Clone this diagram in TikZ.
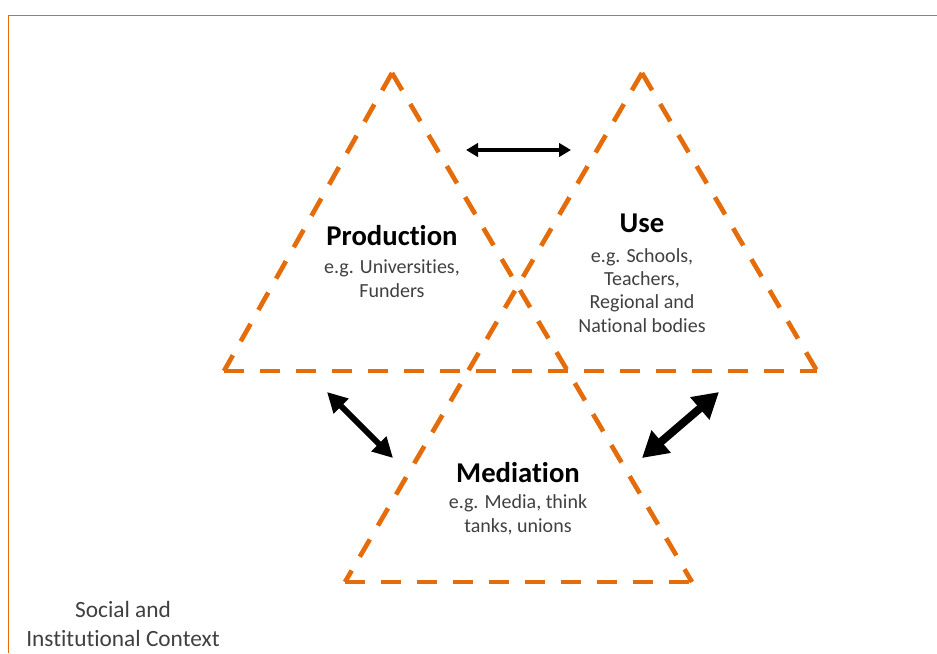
\documentclass[tikz,border=0pt]{standalone}
\usepackage{fontspec}
\setmainfont{Carlito}[Ligatures=NoCommon]
\usetikzlibrary{arrows.meta}
\definecolor{ctxorange}{RGB}{228,108,10}
\definecolor{labelgrey}{RGB}{64,64,64}

\begin{document}
\begin{tikzpicture}[x=0.75pt,y=-0.75pt]
	\tikzset{edge/.style = {draw=ctxorange, line width=3.5pt, dash pattern=on 15pt off 12pt}}
	\tikzset{frame/.style = {draw=ctxorange, line width=1.1pt}}
	\tikzset{title/.style = {font=\fontsize{21.5}{26}\selectfont\bfseries, anchor=base, inner sep=0pt}}
	\tikzset{sub/.style = {font=\fontsize{15}{17.5}\selectfont, text=labelgrey, align=center, anchor=base, inner sep=0pt}}

	\useasboundingbox (0,0) rectangle (937,653);

	% frame of the context
	\coordinate (F_1) at (8.5,653);
	\coordinate (F_2) at (8.5,15.5);
	\coordinate (F_3) at (937,15.5);
	\draw[frame] (F_1)--(F_2)--(F_3);

	% corners of the triangles
	\coordinate (P_A) at (392,73);
	\coordinate (P_L) at (224,371);
	\coordinate (U_A) at (642,73);
	\coordinate (U_R) at (817,371);
	\coordinate (M_L) at (345,582);
	\coordinate (M_R) at (692,582);

	\draw[edge] (P_A)--(P_L);
	\draw[edge] (P_A)--(M_R);
	\draw[edge] (U_A)--(M_L);
	\draw[edge] (U_A)--(U_R);
	\draw[edge] (P_L)--(U_R);
	\draw[edge] (M_L)--(M_R);

	% labels (multi-line nodes sit on their last line)
	\node[title] (prod) at (392,245) {Production};
	\node[sub] (prodsub) at (392,297) {e.g. Universities,\\Funders};

	\node[title] (use) at (642,232) {Use};
	\node[sub] (usesub) at (642,332) {e.g. Schools,\\Teachers,\\Regional and\\National bodies};

	\node[title] (med) at (518,482) {Mediation};
	\node[sub] (medsub) at (518,532) {e.g. Media, think\\tanks, unions};

	\node[sub, font=\fontsize{17.5}{21.75}\selectfont] (ctx) at (123,646) {Social and\\Institutional Context};

	% arrows
	\coordinate (A_1) at (466,150);
	\coordinate (A_2) at (571,150);
	\coordinate (B_1) at (327,392);
	\coordinate (B_2) at (393,458);
	\coordinate (C_1) at (719,392);
	\coordinate (C_2) at (642,458);

	\draw[line width=2.5pt, {Triangle[length=9pt, width=10pt]}-{Triangle[length=9pt, width=10pt]}] (A_1)--(A_2);
	\draw[line width=4.5pt, {Triangle[length=15pt, width=15pt]}-{Triangle[length=15pt, width=15pt]}] (B_1)--(B_2);
	\draw[line width=6pt, {Triangle[length=19pt, width=21pt]}-{Triangle[length=19pt, width=21pt]}] (C_1)--(C_2);

\end{tikzpicture}
\end{document}
